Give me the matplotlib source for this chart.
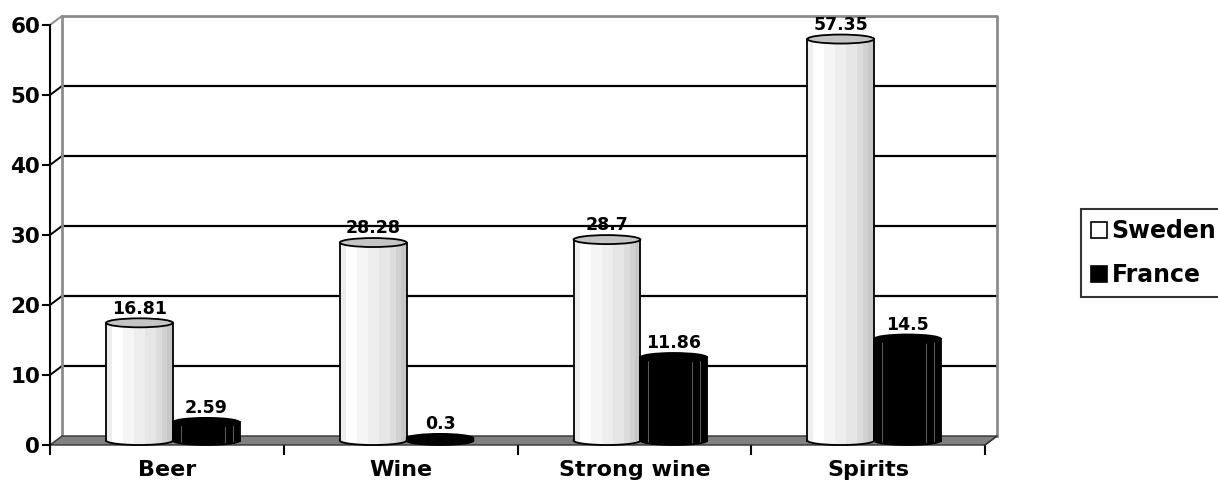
import numpy as np
import matplotlib
matplotlib.use("Agg")
import matplotlib.pyplot as plt
from matplotlib.patches import Polygon, Ellipse, PathPatch, Patch
from matplotlib.path import Path

categories = ['Beer', 'Wine', 'Strong wine', 'Spirits']
series = ['Sweden', 'France']
sweden = [16.81, 28.28, 28.7, 57.35]
france = [2.59, 0.3, 11.86, 14.5]
yticks = [0, 10, 20, 30, 40, 50, 60]

plt.rcParams['font.family'] = ['DejaVu Sans']
plt.rcParams['font.weight'] = 'bold'

W, H = 1218, 486
fig = plt.figure(figsize=(W / 100, H / 100), dpi=100)
# front plane of the 3d box
ax = fig.add_axes([50 / W, 1 - 445 / H, 935 / W, 420 / H])
ncat = len(categories)
ymax = 60

# depth offset (back wall vs front plane), in data units
ddx = ncat * 12 / 935
ddy = ymax * 9 / 420

# back wall + gridlines
for v in yticks:
    c = '#8c8c8c' if v in (0, ymax) else 'black'
    if v not in (0, ymax):
        ax.plot([ddx, ncat + ddx], [v + ddy, v + ddy], color='black', lw=1.6, zorder=1, clip_on=False)
    if v > 0:
        ax.plot([0, ddx], [v, v + ddy], color=c, lw=1.4, zorder=1, clip_on=False)
ax.plot([ddx, ddx, ncat + ddx, ncat + ddx], [ddy, ymax + ddy, ymax + ddy, ddy],
        color='#8c8c8c', lw=2, zorder=1, clip_on=False)

# floor
floor = Polygon([(0, 0), (ddx, ddy), (ncat + ddx, ddy), (ncat, 0)], closed=True,
                facecolor='#808080', edgecolor='#333333', lw=1, zorder=2, clip_on=False)
ax.add_patch(floor)

bw = 1 / 3.5
gap = 0.75 * bw
eh = 9 * ymax / 420  # ellipse height

white_shades = [0.93, 1.0, 1.0, 0.96, 0.96, 0.93, 0.93, 0.90, 0.90, 0.86, 0.82, 0.78]


def cylinder(left, value, dark):
    right = left + bw
    cx = left + bw / 2
    yb = ddy / 2
    yt = value + ddy / 2
    t = np.linspace(0, -np.pi, 40)
    arc = np.column_stack([cx + bw / 2 * np.cos(t), yb + eh / 2 * np.sin(t)])
    verts = np.vstack([[[left, yt], [right, yt]], arc, [[left, yt]]])
    codes = [Path.MOVETO] + [Path.LINETO] * (len(verts) - 2) + [Path.CLOSEPOLY]
    body = PathPatch(Path(verts, codes), facecolor='black' if dark else 'white',
                     edgecolor='none', zorder=3, clip_on=False)
    ax.add_patch(body)
    if not dark:
        im = ax.imshow([white_shades], extent=(left, right, yb - eh / 2, yt), aspect='auto',
                       cmap='gray', vmin=0, vmax=1, interpolation='nearest', zorder=3.1)
        im.set_clip_path(body)
    else:
        for f in (0.12, 0.78, 0.9):
            if yt - yb > eh / 2:
                ax.plot([left + f * bw] * 2, [yb - eh / 2 * 0.7, yt], color='#5a5a5a', lw=0.8,
                        zorder=3.1, clip_on=False)
    ax.plot(arc[:, 0], arc[:, 1], color='black', lw=1.3, zorder=3.2, clip_on=False)
    ax.plot([left, left], [yb, yt], color='black', lw=1.3, zorder=3.2, clip_on=False)
    ax.plot([right, right], [yb, yt], color='black', lw=1.3, zorder=3.2, clip_on=False)
    top = Ellipse((cx, yt), bw, eh, facecolor='black' if dark else '#c4c4c4',
                  edgecolor='black', lw=1.3, zorder=3.3, clip_on=False)
    ax.add_patch(top)
    ax.text(cx, yt + eh / 2 + 0.1, str(value), ha='center', va='bottom',
            fontsize=12.5, fontweight='bold', zorder=4, clip_on=False)


for i in range(ncat):
    base = i + gap + ddx / 2
    cylinder(base, sweden[i], False)
    cylinder(base + bw, france[i], True)

ax.set_xlim(0, ncat)
ax.set_ylim(0, ymax)
for s in ['top', 'right']:
    ax.spines[s].set_visible(False)
ax.spines['left'].set_linewidth(1.5)
ax.spines['bottom'].set_visible(False)
ax.plot([ncat, ncat + ddx], [0, ddy], color='#333333', lw=1, zorder=2, clip_on=False)
ax.set_yticks(yticks)
ax.set_yticklabels([str(v) for v in yticks], fontsize=15.5, fontweight='bold')
ax.tick_params(axis='y', length=6, width=1.5, pad=1)
ax.set_xticks(range(ncat + 1))
ax.set_xticklabels([''] * (ncat + 1))
ax.set_xticks([i + 0.5 for i in range(ncat)], minor=True)
ax.set_xticklabels(categories, minor=True, fontsize=16, fontweight='bold')
ax.tick_params(axis='x', which='major', length=7, width=1.5)
ax.tick_params(axis='x', which='minor', length=0, pad=11)
ax.patch.set_visible(False)

handles = [Patch(facecolor='white', edgecolor='black', lw=1.2),
           Patch(facecolor='black', edgecolor='black', lw=1.2)]
leg = fig.legend(handles, series, loc='upper left', bbox_to_anchor=(1081 / W, 1 - 209 / H),
                 frameon=True, fancybox=False, edgecolor='black',
                 prop={'weight': 'bold', 'size': 17}, handlelength=0.68, handleheight=0.68,
                 handletextpad=0.2, labelspacing=0.85, borderpad=0.42, borderaxespad=0)
leg.get_frame().set_linewidth(1.5)
leg.get_frame().set_edgecolor('black')

fig.savefig('out.png', dpi=100)
